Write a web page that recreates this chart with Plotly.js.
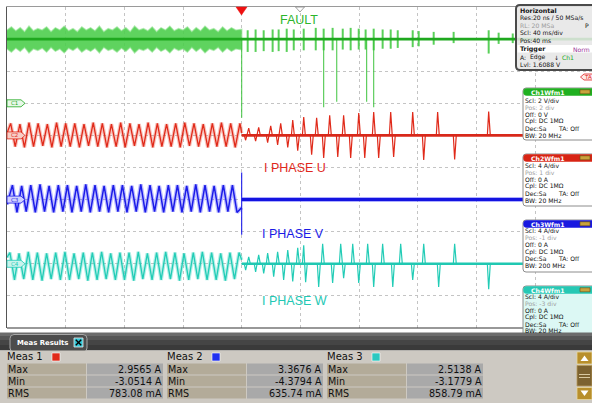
<!DOCTYPE html>
<html><head><meta charset="utf-8">
<script src="https://cdn.plot.ly/plotly-3.0.1.min.js"></script>
<style>html,body{margin:0;padding:0;background:#fff;overflow:hidden}#chart{width:592px;height:403px}</style>
</head><body><div id="chart"></div>
<script>
// ---------------- DATA (time in ms from trigger; Ch1 in V, Ch2..Ch4 in A) ----------------
const recordT = [-160, 240];
// Ch1 FAULT
const faultLevel = [4.0, 4.0];
const faultBandT = [-160,-157,-154,-151,-148,-145,-142,-139,-136,-133,-130,-127,-124,-121,-118,-115,-112,-109,-106,-103,-100,-97,-94,-91,-88,-85,-82,-79,-76,-73,-70,-67,-64,-61,-58,-55,-52,-49,-46,-43,-40,-37,-34,-31,-28,-25,-22,-19,-16,-13,-10,-7,-4,-1,0];
const faultBandHi = [4.55,4.75,4.5,4.7,4.45,4.8,4.5,4.65,4.55,4.75,4.45,4.7,4.55,4.8,4.5,4.65,4.45,4.75,4.55,4.7,4.5,4.8,4.45,4.65,4.55,4.75,4.5,4.7,4.45,4.8,4.55,4.65,4.5,4.75,4.45,4.7,4.55,4.8,4.5,4.65,4.55,4.75,4.45,4.7,4.5,4.8,4.55,4.65,4.45,4.75,4.5,4.7,4.55,4.6,4.6];
const faultBandLo = [3.4,3.2,3.45,3.25,3.5,3.15,3.4,3.3,3.45,3.2,3.5,3.25,3.4,3.15,3.45,3.3,3.5,3.2,3.4,3.25,3.45,3.15,3.5,3.3,3.4,3.2,3.45,3.25,3.5,3.15,3.4,3.3,3.45,3.2,3.5,3.25,3.4,3.15,3.45,3.3,3.4,3.2,3.5,3.25,3.45,3.15,3.4,3.3,3.5,3.2,3.45,3.25,3.4,3.35,3.35];
const faultBurstT  = [4.1,9.5,15.0,21.1,25.2,30.7,35.5,42.3,50.5,55.9,62.0,68.9,74.3,79.8,84.5,90.0,96.1,101.6,106.4,116.6,120.7,130.9,144.5,168.4,175.2,184.8];
const faultBurstHi = [4.55,4.6,4.55,4.6,4.6,4.65,4.6,4.65,4.7,4.65,4.7,4.65,4.7,4.65,4.6,4.65,4.6,4.6,4.55,4.55,4.5,4.45,4.45,4.55,4.4,4.35];
const faultBurstLo = [3.2,3.2,3.25,3.2,3.25,3.2,3.3,3.3,3.3,3.3,3.3,3.35,3.3,3.35,3.35,3.3,3.4,3.4,3.45,3.5,3.55,3.65,3.75,3.1,3.7,3.75];
const faultDropT = [0, 55.9, 64.8, 85.2, 90.0];
const faultDropV = [-0.9, -0.25, 0.1, 0.1, -0.25];

// Ch2 I PHASE U
const uPreT = [-160,-157.5,-154.4,-151.2,-148.1,-145.0,-141.9,-138.8,-135.6,-132.5,-129.4,-126.2,-123.1,-120.0,-116.9,-113.8,-110.6,-107.5,-104.4,-101.2,-98.1,-95.0,-91.9,-88.8,-85.6,-82.5,-79.4,-76.2,-73.1,-70.0,-66.9,-63.8,-60.6,-57.5,-54.4,-51.2,-48.1,-45.0,-41.9,-38.8,-35.6,-32.5,-29.4,-26.2,-23.1,-20.0,-16.9,-13.8,-10.6,-7.5,-4.4,-1.2,0];
const uPreI = [0.3,1.5,-1.4,1.4,-1.5,1.6,-1.4,1.5,-1.3,1.4,-1.5,1.6,-1.4,1.5,-1.4,1.5,-1.5,1.4,-1.3,1.6,-1.4,1.5,-1.5,1.4,-1.4,1.6,-1.5,1.5,-1.3,1.4,-1.4,1.6,-1.5,1.5,-1.4,1.4,-1.4,1.5,-1.5,1.6,-1.3,1.5,-1.4,1.4,-1.5,1.5,-1.4,1.6,-1.4,1.5,-1.5,1.5,0.3];
const uPostT = [2.7,4.8,9.5,11.6,17.7,19.8,24.5,26.6,31.4,34.8,38.2,42.3,47.7,51.1,55.9,60.0,65.5,69.5,74.3,79.8,83.9,90.0,93.4,101.6,103.6,116.6,124.1,133.6,145.2,168.4];
const uPostI = [-0.6,0.9,-0.7,1.0,-0.9,1.2,-1.2,1.5,-1.5,1.9,-1.9,2.3,-2.4,2.2,-2.8,2.5,-2.7,2.5,-2.8,2.8,-2.8,2.9,-2.8,2.9,-2.7,2.9,-3.05,2.9,-3.0,2.96];

// Ch3 I PHASE V
const vPreT = [-160,-156.3,-153.2,-150.0,-146.9,-143.8,-140.7,-137.5,-134.4,-131.3,-128.2,-125.0,-121.9,-118.8,-115.7,-112.5,-109.4,-106.3,-103.2,-100.0,-96.9,-93.8,-90.7,-87.5,-84.4,-81.3,-78.2,-75.0,-71.9,-68.8,-65.7,-62.5,-59.4,-56.3,-53.2,-50.0,-46.9,-43.8,-40.7,-37.5,-34.4,-31.3,-28.2,-25.0,-21.9,-18.8,-15.7,-12.5,-9.4,-6.3,-3.2,0];
const vPreI = [-0.6,1.8,-1.6,1.7,-1.5,1.8,-1.6,1.9,-1.5,1.7,-1.6,1.8,-1.5,1.8,-1.6,1.7,-1.5,1.9,-1.6,1.8,-1.5,1.7,-1.6,1.8,-1.5,1.8,-1.6,1.7,-1.5,1.9,-1.6,1.8,-1.5,1.7,-1.6,1.8,-1.5,1.8,-1.6,1.7,-1.5,1.9,-1.6,1.8,-1.5,1.7,-1.6,1.8,-1.5,1.8,-1.6,-1.0];
const vTrigT = [0, 0, 0];
const vTrigI = [-1.0, 3.37, -4.38];
const vPostT = [0, 240];
const vPostI = [0, 0];

// Ch4 I PHASE W
const wPreT = [-160,-158.0,-154.9,-151.8,-148.6,-145.5,-142.4,-139.3,-136.1,-133.0,-129.9,-126.8,-123.6,-120.5,-117.4,-114.3,-111.1,-108.0,-104.9,-101.8,-98.6,-95.5,-92.4,-89.3,-86.1,-83.0,-79.9,-76.8,-73.6,-70.5,-67.4,-64.3,-61.1,-58.0,-54.9,-51.8,-48.6,-45.5,-42.4,-39.3,-36.1,-33.0,-29.9,-26.8,-23.6,-20.5,-17.4,-14.3,-11.1,-8.0,-4.9,-1.8,0];
const wPreI = [0.8,1.4,-2.0,1.3,-1.9,1.5,-2.0,1.4,-2.1,1.3,-1.9,1.4,-2.0,1.5,-2.0,1.3,-1.9,1.4,-2.1,1.4,-2.0,1.5,-1.9,1.3,-2.0,1.4,-2.0,1.4,-2.1,1.5,-1.9,1.3,-2.0,1.4,-2.0,1.5,-1.9,1.4,-2.1,1.3,-2.0,1.4,-1.9,1.5,-2.0,1.4,-2.0,1.3,-2.1,1.4,-1.9,1.4,0.5];
const wPostT = [2.7,4.8,9.5,11.6,15.0,17.7,21.8,24.5,28.6,31.4,34.8,38.2,42.3,43.6,52.5,55.2,62.0,67.5,69.5,75.7,79.8,85.9,90.0,96.1,103.0,108.4,116.6,124.1,134.3,145.2,168.4];
const wPostI = [-0.8,0.85,-1.0,1.1,-1.2,1.35,-1.6,1.5,-2.0,1.7,-2.2,2.0,2.3,-2.3,-2.9,2.5,-2.4,2.5,-1.8,2.5,-2.4,2.5,-2.9,2.5,-2.9,2.5,-2.0,2.5,-2.9,2.5,-3.18];

// Channel vertical settings (units per division and position in divisions)
const chUnitsPerDiv = [2, 4, 4, 4];
const chPosDiv = [2, 1, -1, -3];

// Texts
const traceLabels = ['FAULT', 'I PHASE U', 'I PHASE V', 'I PHASE W'];
const horizLines = ['Res:20 ns / 50 MSa/s', 'RL: 20 MSa', 'Scl: 40 ms/div', 'Pos:40 ms'];
const trigLines = ['A:', 'Edge', 'Ch1', 'Lvl: 1.6088 V'];
const chTitles = ['Ch1Wfm1', 'Ch2Wfm1', 'Ch3Wfm1', 'Ch4Wfm1'];
const chScl = ['2 V/div', '4 A/div', '4 A/div', '4 A/div'];
const chPos = ['2 div', '1 div', '-1 div', '-3 div'];
const chOff = ['0 V', '0 A', '0 A', '0 A'];
const chCpl = ['DC 1MΩ', 'DC 1MΩ', 'DC 1MΩ', 'DC 1MΩ'];
const chBW = ['20 MHz', '20 MHz', '200 MHz', '20 MHz'];
const chMarkers = ['C1', 'C2', 'C3', 'C4'];
const measNames = ['Meas 1', 'Meas 2', 'Meas 3'];
const measRowNames = ['Max', 'Min', 'RMS'];
const measMax = ['2.9565 A', '3.3676 A', '2.5138 A'];
const measMin = ['-3.0514 A', '-4.3794 A', '-3.1779 A'];
const measRms = ['783.08 mA', '635.74 mA', '858.79 mA'];

// ---------------- STYLE / LAYOUT ----------------
const W = 592, H = 403, PL = 7, PT = 7, PB = 328;
const PWd = W - PL, PHt = PB - PT;
const X = p => (p - PL) / PWd;
const Y = p => (PB - p) / PHt;
const FONT = '"DejaVu Sans", sans-serif';
const LFONT = '"Liberation Sans", Arial, sans-serif';
const COL = {g: '#1fa81f', gBand: 'rgba(78,206,78,0.9)', r: '#e02a1a', b: '#1c1ce8', c: '#22ccb6'};

// screen divisions from channel units
function div(ch, arr) { return arr.map(v => v === null ? null : v / chUnitsPerDiv[ch] + chPosDiv[ch]); }

const traces = [];
function ln(x, y, ch, color, width, extra) {
  traces.push(Object.assign({type: 'scatter', mode: 'lines', x: x, y: div(ch, y),
    line: {color: color, width: width}, hoverinfo: 'skip', showlegend: false}, extra || {}));
}
function spikes(ts, vs, t0, t1) {
  const x = [t0], y = [0];
  for (let i = 0; i < ts.length; i++) {
    const prevGap = i > 0 ? ts[i] - ts[i - 1] : 99;
    const nextGap = i < ts.length - 1 ? ts[i + 1] - ts[i] : 99;
    if (prevGap > 2.2) { x.push(ts[i] - 0.9); y.push(0); }
    x.push(ts[i]); y.push(vs[i]);
    if (nextGap > 2.2) { x.push(ts[i] + 1.1); y.push(0); }
  }
  x.push(t1); y.push(0);
  return {x, y};
}

// Ch1
ln(faultBandT.concat(faultBandT.slice().reverse()), faultBandHi.concat(faultBandLo.slice().reverse()), 0,
   'rgba(120,220,120,0.55)', 1.6, {fill: 'toself', fillcolor: COL.gBand});
(function () {
  const x = [], y = [];
  faultBurstT.forEach((t, i) => { x.push(t, t, null); y.push(faultBurstHi[i], faultBurstLo[i], null); });
  ln(x, y, 0, 'rgba(80,205,80,0.95)', 2);
  const dx = [], dy = [];
  faultDropT.forEach((t, i) => { dx.push(t, t, null); dy.push(faultLevel[0], faultDropV[i], null); });
  ln(dx, dy, 0, 'rgba(60,195,60,0.9)', 1.1);
})();
ln(recordT, faultLevel, 0, COL.g, 2.6);

// Ch2
ln(uPreT, uPreI, 1, 'rgba(235,80,60,0.35)', 3.6);
ln(uPreT, uPreI, 1, COL.r, 1.3);
(function () { const s = spikes(uPostT, uPostI, 0, recordT[1]); ln(s.x, s.y, 1, COL.r, 1.2); })();
ln([0, recordT[1]], [0, 0], 1, '#d8281a', 2.6);

// Ch3
ln(vPreT, vPreI, 2, 'rgba(60,60,255,0.35)', 4);
ln(vPreT, vPreI, 2, COL.b, 1.5);
ln(vTrigT, vTrigI, 2, COL.b, 1.1);
ln(vPostT, vPostI, 2, 'rgba(80,80,255,0.45)', 5);
ln(vPostT, vPostI, 2, '#1414e0', 3);

// Ch4
ln(wPreT, wPreI, 3, 'rgba(40,210,185,0.35)', 3.6);
ln(wPreT, wPreI, 3, COL.c, 1.3);
(function () { const s = spikes(wPostT, wPostI, 0, recordT[1]); ln(s.x, s.y, 3, COL.c, 1.2); })();
ln([0, recordT[1]], [0, 0], 3, '#20c8b2', 2.6);

// ---------------- shapes & annotations ----------------
const shapes = [], ann = [];
function rr(x0, y0, x1, y1, r) {
  return `M${X(x0 + r)},${Y(y0)} L${X(x1 - r)},${Y(y0)} Q${X(x1)},${Y(y0)} ${X(x1)},${Y(y0 + r)} L${X(x1)},${Y(y1 - r)} Q${X(x1)},${Y(y1)} ${X(x1 - r)},${Y(y1)} L${X(x0 + r)},${Y(y1)} Q${X(x0)},${Y(y1)} ${X(x0)},${Y(y1 - r)} L${X(x0)},${Y(y0 + r)} Q${X(x0)},${Y(y0)} ${X(x0 + r)},${Y(y0)} Z`;
}
function poly(pts) { return 'M' + pts.map(p => `${X(p[0])},${Y(p[1])}`).join(' L') + ' Z'; }
function shp(path, fill, lc, lw) {
  shapes.push({type: 'path', xref: 'paper', yref: 'paper', path: path, fillcolor: fill,
    line: {color: lc || 'rgba(0,0,0,0)', width: lw || 0}, layer: 'above'});
}
function box(x0, y0, x1, y1, fill, lc, lw) {
  shapes.push({type: 'rect', xref: 'paper', yref: 'paper', x0: X(x0), x1: X(x1), y0: Y(y1), y1: Y(y0),
    fillcolor: fill, line: {color: lc || 'rgba(0,0,0,0)', width: lw || 0}, layer: 'above'});
}
function seg(x0, y0, x1, y1, c, w) {
  shapes.push({type: 'line', xref: 'paper', yref: 'paper', x0: X(x0), y0: Y(y0), x1: X(x1), y1: Y(y1),
    line: {color: c, width: w}, layer: 'above'});
}
function txt(text, px, py, size, color, extra) {
  ann.push(Object.assign({xref: 'paper', yref: 'paper', x: X(px), y: Y(py), text: text, showarrow: false,
    xanchor: 'left', yanchor: 'middle', borderpad: 0, borderwidth: 0,
    font: {family: FONT, size: size, color: color}}, extra || {}));
}

// frame
seg(6.5, 6.5, 6.5, 328, '#555', 1);
seg(7, 6.5, 592, 6.5, '#9a9a9a', 1);
seg(7, 328, 592, 328, '#333', 1.2);

// trigger & position markers
shp(poly([[236, 7], [247, 7], [241.5, 15]]), '#ee1010', '#ee1010', 0.5);
shp(poly([[295.5, 7], [304.5, 7], [300, 12]]), '#ffffff', '#8a8a8a', 0.8);

// channel ground markers
const mk = [[103.3, COL.g, '#e8f8e8'], [135.4, COL.r, '#f7cdc6'], [199.6, COL.b, '#cfcfff'], [263.8, COL.c, '#c8f3ec']];
mk.forEach((m, i) => {
  shp(poly([[7, m[0] - 3.5], [21, m[0] - 3.5], [25, m[0]], [21, m[0] + 3.5], [7, m[0] + 3.5]]), m[2], m[1], 0.8);
  txt(chMarkers[i], 11, m[0], 5.5, m[1]);
});
shp(poly([[593, 74], [584, 74], [580.5, 77], [584, 80], [593, 80]]), '#fde8e8', '#e02020', 0.8);
txt('TA', 583.5, 77, 5.5, '#e02020');

// trace labels
const lblPos = [[298.5, 20, '#2cb52c'], [295, 168, '#e0281c'], [293, 234, '#1a1ae6'], [294, 301, '#22c8b4']];
lblPos.forEach((p, i) => txt(traceLabels[i], p[0], p[1], 12.5, p[2], {xanchor: 'center', font: {family: LFONT, size: 12.5, color: p[2]}}));

// Horizontal / Trigger panel
const PF = 6.1;
shp(rr(516, 5, 604, 70, 4), 'rgba(230,230,230,0.88)', '#4a4a4a', 2);
box(517.5, 45, 600, 52.5, '#ffffff');
txt('<b>Horizontal</b>', 519.5, 10.5, 6.3, '#111');
txt(horizLines[0], 519.5, 17.5, PF, '#111');
txt(horizLines[1], 519.5, 25, PF, '#9a9a9a');
txt('P', 585, 25, PF, '#111');
txt(horizLines[2], 519.5, 32.5, PF, '#111');
txt(horizLines[3], 519.5, 40, PF, '#111');
txt('<b>Trigger</b>', 520, 49, 6.3, '#111');
txt('Norm', 573, 49, PF, '#993399');
txt(trigLines[0], 519.5, 57, PF, '#111');
txt(trigLines[1], 530, 57, PF, '#111');
txt('↓', 554, 57, 6, '#111');
txt(trigLines[2], 562, 57, PF, '#22aa22');
txt(trigLines[3], 519.5, 64.5, PF, '#111');

// channel panels
const panelY = [88, 154, 220, 286];
const lineStart = [12, 11, 10.5, 10.4];
const lineStep = [7.1, 7.1, 7.0, 6.9];
const headCol = ['#20b020', '#d82414', '#1818e0', '#26c8b4'];
const bodyCol = ['#ffffff', '#ffffff', '#ffffff', '#dcf8f4'];
panelY.forEach((y0, i) => {
  shp(rr(523, y0, 604, y0 + 52, 3), bodyCol[i], '#8c8c8c', 1);
  shp(rr(523.5, y0 + 0.5, 603, y0 + 7.5, 3), headCol[i], headCol[i], 0.5);
  box(580, y0 + 1.8, 590, y0 + 5.8, '#c9a23c', '#6a5010', 0.6);
  txt('<b>' + chTitles[i] + '</b>', 548, y0 + 4, 6.2, '#ffffff', {xanchor: 'center'});
  const ly = y0 + lineStart[i], s = lineStep[i];
  txt('Scl: ' + chScl[i], 525, ly, PF, '#111');
  txt('Pos: ' + chPos[i], 525, ly + s, PF, '#a0a0a0');
  txt('Off: ' + chOff[i], 525, ly + 2 * s, PF, '#111');
  txt('Cpl: ' + chCpl[i], 525, ly + 3 * s, PF, '#111');
  txt('Dec:Sa', 525, ly + 4 * s, PF, '#111');
  txt('TA: Off', 558, ly + 4 * s, PF, '#111');
  txt('BW: ' + chBW[i], 525, ly + 5 * s, PF, '#111');
});

// Meas results bar
box(0, 332.5, 592, 336, '#6c6c6c');
box(0, 336, 592, 340, '#565656');
box(0, 340, 592, 345, '#454545');
box(0, 345, 592, 350.5, '#3a3a3a');
shp(rr(10, 334.5, 87, 352, 4), '#4c4c4c', '#a8a8a8', 1);
txt('<b>Meas Results</b>', 17, 342.5, 6.9, '#ffffff');
box(74, 338, 83, 347, '#30c4d4', '#e8e8e8', 0.8);
seg(75.8, 339.8, 81.2, 345.2, '#000', 1.4);
seg(81.2, 339.8, 75.8, 345.2, '#000', 1.4);

// table
box(0, 350.5, 592, 403, '#cdc9c2');
const bx = [7, 167, 327];
const icCol = ['#e02a1a', '#2030f0', '#2cc8c0'];
const rowY = [363.5, 375.5, 387.5];
const rowVals = [measMax, measMin, measRms];
bx.forEach((x0, k) => {
  txt(measNames[k], x0, 357, 10, '#111');
  box(x0 + 45, 353, x0 + 53, 361, icCol[k], '#ffffff', 0.6);
  rowY.forEach((y0, r) => {
    box(x0, y0, x0 + 79, y0 + 11, '#b3ab99');
    box(x0 + 80, y0, x0 + 156, y0 + 11, '#a9a9a9');
    txt(measRowNames[r], x0 + 0.5, y0 + 5.8, 9.6, '#111');
    txt(rowVals[r][k], x0 + 155, y0 + 5.8, 9.6, '#111', {xanchor: 'right'});
  });
});

// scroll widget
box(577, 352, 592, 364, '#b88f2c', '#e8d8a0', 0.8);
shp(poly([[580.5, 361], [588.5, 361], [584.5, 355.5]]), '#ffffff');
box(577, 365.5, 592, 386, '#7c6230', '#b89a58', 0.8);
seg(579, 374.5, 590, 374.5, '#d8c8a0', 1);
seg(579, 377.5, 590, 377.5, '#d8c8a0', 1);
box(577, 387.5, 592, 399.5, '#b88f2c', '#e8d8a0', 0.8);
shp(poly([[580.5, 390.5], [588.5, 390.5], [584.5, 396]]), '#ffffff');

// ---------------- layout ----------------
const gridAx = {showgrid: true, gridcolor: '#c4c4c4', griddash: 'dot', gridwidth: 1, zeroline: false,
  showticklabels: false, ticks: '', showline: false, fixedrange: true};
const layout = {
  width: W, height: H, margin: {l: PL, r: 0, t: PT, b: H - PB, pad: 0},
  paper_bgcolor: '#ffffff', plot_bgcolor: '#ffffff', showlegend: false,
  xaxis: Object.assign({}, gridAx, {range: [-160, -160 + PWd / (58.67 / 40)], tick0: -160, dtick: 40}),
  yaxis: Object.assign({}, gridAx, {range: [-5, 5], tick0: -5, dtick: 1}),
  shapes: shapes, annotations: ann
};
Plotly.newPlot('chart', traces, layout, {staticPlot: true, displayModeBar: false});
</script></body></html>
